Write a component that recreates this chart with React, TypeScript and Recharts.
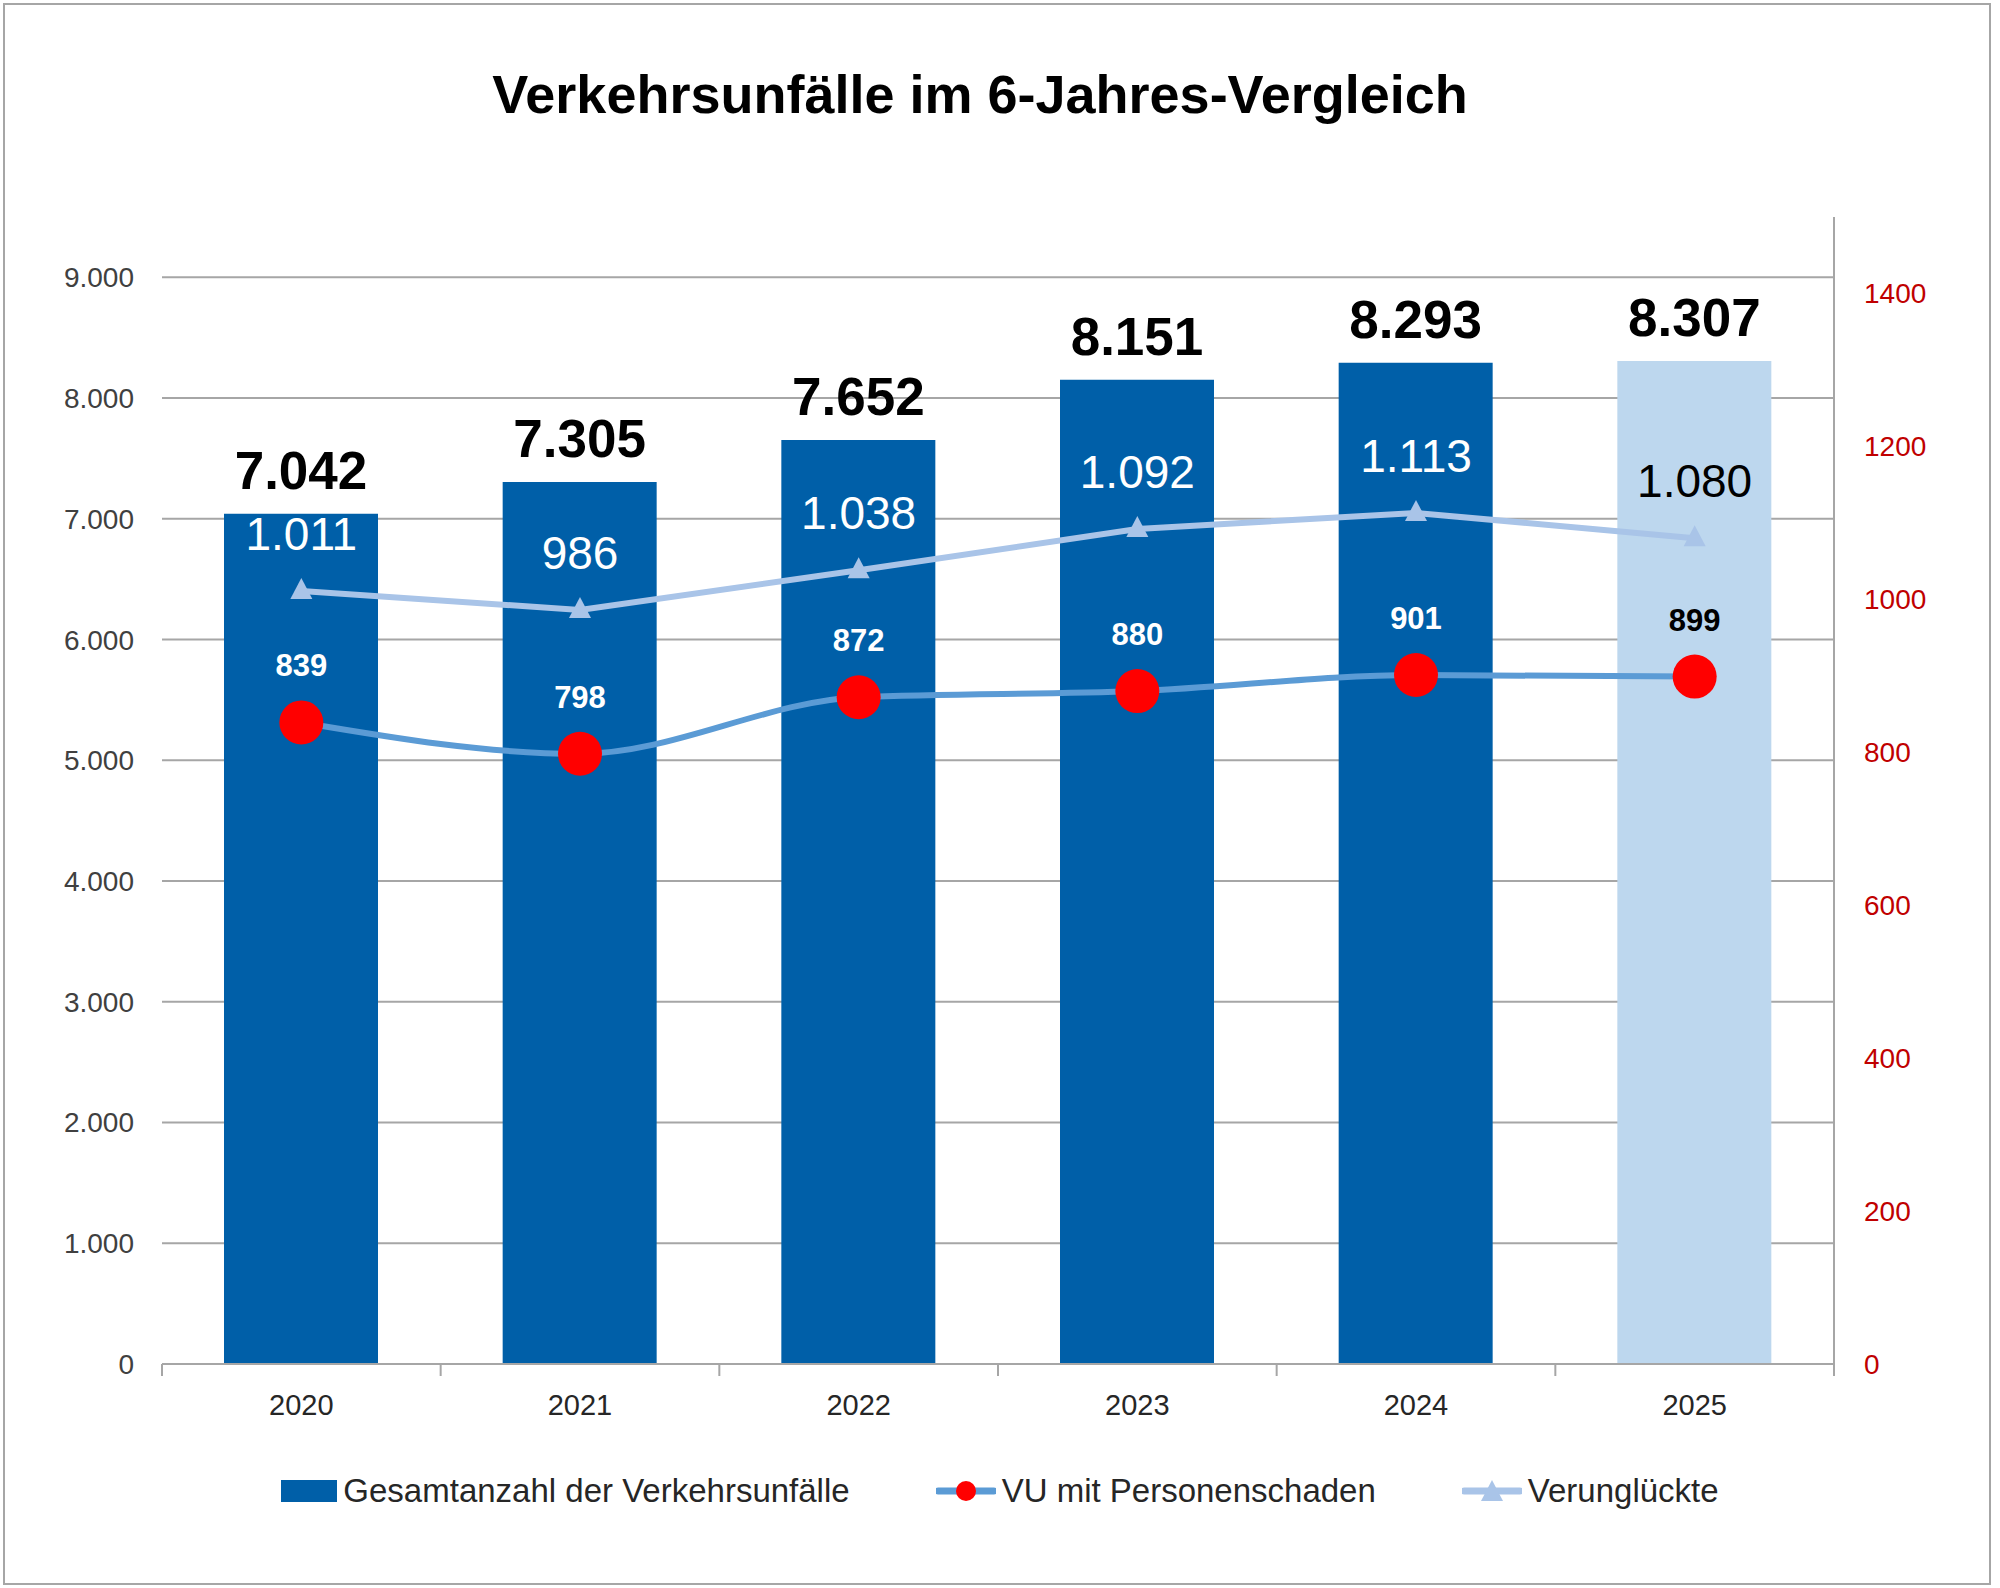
import React from 'react';
import {
  ComposedChart,
  Bar,
  Line,
  XAxis,
  YAxis,
  CartesianGrid,
  LabelList,
  Legend,
  Cell,
} from 'recharts';

// ---------- data ----------
const years = ['2020', '2021', '2022', '2023', '2024', '2025'];
const totalAccidents = [7042, 7305, 7652, 8151, 8293, 8307];
const injuryAccidents = [839, 798, 872, 880, 901, 899];
const casualties = [1011, 986, 1038, 1092, 1113, 1080];
const leftTicks = [0, 1000, 2000, 3000, 4000, 5000, 6000, 7000, 8000, 9000];
const rightTicks = [0, 200, 400, 600, 800, 1000, 1200, 1400];
const seriesNames = {
  total: 'Gesamtanzahl der Verkehrsunfälle',
  injury: 'VU mit Personenschaden',
  casualties: 'Verunglückte',
};
const titleText = 'Verkehrsunfälle im 6-Jahres-Vergleich';

const data = years.map((year, i) => ({
  year,
  total: totalAccidents[i],
  injury: injuryAccidents[i],
  casualties: casualties[i],
}));

// ---------- styles ----------
const FONT = '"Liberation Sans", Arial, sans-serif';
const BAR_BLUE = '#005FA8';
const BAR_LIGHT = '#BDD7EE';
const LINE_BLUE = '#5B9BD5';
const LINE_LIGHT = '#A9C4E8';
const RED = '#FF0000';
const GRID = '#A6A6A6';
const AXIS_TEXT = '#404040';

const fmt = (v: number) => String(v).replace(/\B(?=(\d{3})+(?!\d))/g, '.');

const lastIndex = years.length - 1;

const getIdx = (props: any, arr: number[]) =>
  typeof props.index === 'number' ? props.index : arr.indexOf(Number(props.value));

const getBox = (props: any) => {
  const vb = props.viewBox || {};
  const x = props.x ?? vb.x;
  const y = props.y ?? vb.y;
  const w = props.width ?? vb.width ?? 0;
  return { x: Number(x), y: Number(y), w: Number(w) || 0 };
};

const TotalLabel = (props: any) => {
  const { x, y, w } = getBox(props);
  return (
    <text
      x={x + w / 2}
      y={y - 25}
      textAnchor="middle"
      fontFamily={FONT}
      fontWeight="bold"
      fontSize={53}
      fill="#000000"
    >
      {fmt(Number(props.value))}
    </text>
  );
};

const CasualtyLabel = (props: any) => {
  const { x, y } = getBox(props);
  const idx = getIdx(props, casualties);
  return (
    <text
      x={x}
      y={y - 41}
      textAnchor="middle"
      fontFamily={FONT}
      fontSize={46}
      fill={idx === lastIndex ? '#000000' : '#FFFFFF'}
    >
      {fmt(Number(props.value))}
    </text>
  );
};

const InjuryLabel = (props: any) => {
  const { x, y } = getBox(props);
  const idx = getIdx(props, injuryAccidents);
  return (
    <text
      x={x}
      y={y - 46}
      textAnchor="middle"
      fontFamily={FONT}
      fontWeight="bold"
      fontSize={31}
      fill={idx === lastIndex ? '#000000' : '#FFFFFF'}
    >
      {fmt(Number(props.value))}
    </text>
  );
};

const TriangleDot = (props: any) => {
  const { cx, cy, index } = props;
  if (cx == null || cy == null) return <g key={`tri-${index}`} />;
  return (
    <path
      key={`tri-${index}`}
      d={`M${cx},${cy - 13} L${cx + 11},${cy + 8} L${cx - 11},${cy + 8} Z`}
      fill={LINE_LIGHT}
    />
  );
};

const XTick = (props: any) => {
  const { x, y, payload, width, visibleTicksCount, index } = props;
  const count = visibleTicksCount || years.length;
  const half =
    (payload && payload.offset) || (width && count ? width / count / 2 : 0);
  return (
    <g>
      <line x1={x - half} x2={x - half} y1={y} y2={y + 12} stroke={GRID} strokeWidth={2} />
      {index === count - 1 && (
        <line x1={x + half} x2={x + half} y1={y} y2={y + 12} stroke={GRID} strokeWidth={2} />
      )}
      <text
        x={x}
        y={y + 41}
        dy="0.35em"
        textAnchor="middle"
        fontFamily={FONT}
        fontSize={29}
        fill="#262626"
      >
        {payload.value}
      </text>
    </g>
  );
};

const legendOrder = ['total', 'injury', 'casualties'];

const LegendIcon = ({ dataKey }: { dataKey: string }) => {
  if (dataKey === 'total') {
    return (
      <svg width={56} height={24} style={{ display: 'block' }}>
        <rect x={0} y={1} width={56} height={22} fill={BAR_BLUE} />
      </svg>
    );
  }
  if (dataKey === 'injury') {
    return (
      <svg width={60} height={30} style={{ display: 'block' }}>
        <line x1={2} x2={58} y1={15} y2={15} stroke={LINE_BLUE} strokeWidth={7} strokeLinecap="round" />
        <circle cx={30} cy={15} r={10} fill={RED} />
      </svg>
    );
  }
  return (
    <svg width={60} height={30} style={{ display: 'block' }}>
      <line x1={2} x2={58} y1={15} y2={15} stroke={LINE_LIGHT} strokeWidth={7} strokeLinecap="round" />
      <path d="M30,4 L41,25 L19,25 Z" fill={LINE_LIGHT} />
    </svg>
  );
};

const renderLegend = (props: any) => {
  const payload = [...(props.payload || [])].sort(
    (a: any, b: any) => legendOrder.indexOf(a.dataKey) - legendOrder.indexOf(b.dataKey)
  );
  return (
    <div
      style={{
        display: 'flex',
        justifyContent: 'center',
        alignItems: 'center',
        height: 40,
        width: 2000,
        gap: 86,
        fontFamily: FONT,
        fontSize: 33,
        color: '#262626',
      }}
    >
      {payload.map((entry: any) => (
        <div key={entry.dataKey} style={{ display: 'flex', alignItems: 'center', gap: 6 }}>
          <LegendIcon dataKey={entry.dataKey} />
          <span style={{ whiteSpace: 'nowrap' }}>{entry.value}</span>
        </div>
      ))}
    </div>
  );
};

export default function App() {
  return (
    <div
      style={{
        position: 'absolute',
        left: 0,
        top: 0,
        width: 2000,
        height: 1588,
        background: '#FFFFFF',
        overflow: 'hidden',
      }}
    >
      <div
        style={{
          position: 'absolute',
          left: 3,
          top: 3,
          width: 1988,
          height: 1582,
          border: '2px solid #A6A6A6',
          boxSizing: 'border-box',
        }}
      />
      <div
        style={{
          position: 'absolute',
          left: 980,
          top: 67,
          transform: 'translateX(-50%)',
          whiteSpace: 'nowrap',
          fontFamily: FONT,
          fontWeight: 'bold',
          fontSize: 54,
          lineHeight: '54px',
          color: '#000000',
        }}
      >
        {titleText}
      </div>
      <div style={{ position: 'absolute', left: 0, top: 0 }}>
        <ComposedChart
          width={2000}
          height={1588}
          data={data}
          margin={{ top: 217, right: 46, bottom: 104, left: 62 }}
        >
          <CartesianGrid
            yAxisId="left"
            vertical={false}
            syncWithTicks
            stroke={GRID}
            strokeWidth={2}
          />
          <XAxis
            dataKey="year"
            height={80}
            interval={0}
            axisLine={{ stroke: GRID, strokeWidth: 2 }}
            tickLine={false}
            tickSize={0}
            tickMargin={0}
            tick={(p: any) => <XTick {...p} />}
          />
          <YAxis
            yAxisId="left"
            orientation="left"
            width={100}
            domain={[0, 9500]}
            ticks={leftTicks}
            interval={0}
            axisLine={false}
            tickLine={false}
            tickSize={0}
            tickMargin={28}
            tickFormatter={fmt}
            tick={{ fill: AXIS_TEXT, fontSize: 28, fontFamily: FONT }}
          />
          <YAxis
            yAxisId="right"
            orientation="right"
            width={120}
            domain={[0, 1500]}
            ticks={rightTicks}
            interval={0}
            axisLine={{ stroke: GRID, strokeWidth: 2 }}
            tickLine={false}
            tickSize={0}
            tickMargin={30}
            tick={{ fill: '#C00000', fontSize: 28, fontFamily: FONT }}
          />
          <Bar
            yAxisId="left"
            dataKey="total"
            name={seriesNames.total}
            fill={BAR_BLUE}
            barSize={154}
            isAnimationActive={false}
          >
            {data.map((d, i) => (
              <Cell key={d.year} fill={i === lastIndex ? BAR_LIGHT : BAR_BLUE} />
            ))}
            <LabelList dataKey="total" content={TotalLabel} />
          </Bar>
          <Line
            yAxisId="right"
            type="monotone"
            dataKey="injury"
            name={seriesNames.injury}
            stroke={LINE_BLUE}
            strokeWidth={6}
            dot={{ r: 22, fill: RED, stroke: 'none' }}
            activeDot={false}
            isAnimationActive={false}
          >
            <LabelList dataKey="injury" content={InjuryLabel} />
          </Line>
          <Line
            yAxisId="right"
            type="linear"
            dataKey="casualties"
            name={seriesNames.casualties}
            stroke={LINE_LIGHT}
            strokeWidth={6}
            dot={TriangleDot}
            activeDot={false}
            isAnimationActive={false}
          >
            <LabelList dataKey="casualties" content={CasualtyLabel} />
          </Line>
          <Legend
            verticalAlign="bottom"
            content={renderLegend}
            wrapperStyle={{ top: 1471, left: 0, width: 2000, height: 40 }}
          />
        </ComposedChart>
      </div>
    </div>
  );
}
